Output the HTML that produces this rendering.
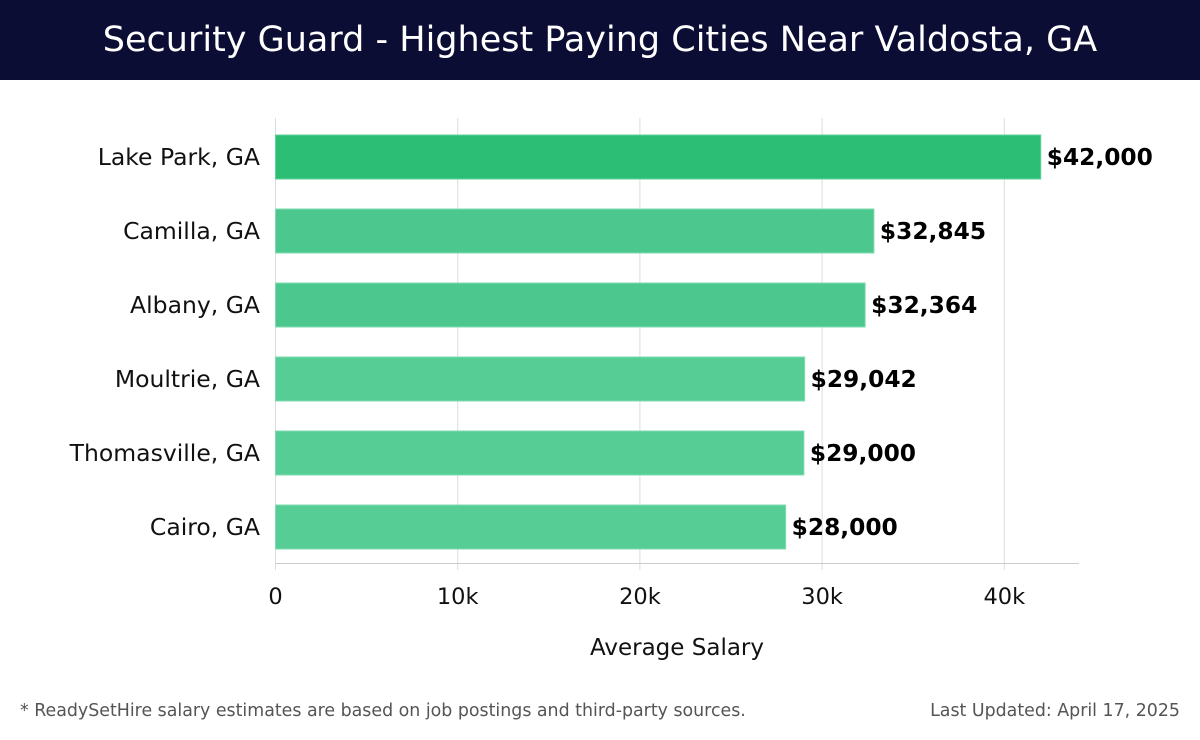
<!DOCTYPE html>
<html><head><meta charset="utf-8"><style>
body{margin:0;width:1200px;height:740px;background:#fff;font-family:"Liberation Sans","DejaVu Sans",sans-serif;overflow:hidden;position:relative}
#hdr{position:absolute;left:0;top:0;width:1200px;height:80px;background:#0b0d35;color:#fff;font-size:35px;text-align:center;line-height:80px;font-family:"DejaVu Sans","Liberation Sans",sans-serif;font-weight:normal}
.foot{position:absolute;top:701px;font-size:17.4px;color:#555;font-family:"DejaVu Sans","Liberation Sans",sans-serif}
</style></head><body>
<div id="hdr">Security Guard - Highest Paying Cities Near Valdosta, GA</div>
<svg id="chart" width="1200" height="740" style="position:absolute;left:0;top:0"></svg>
<div class="foot" style="left:20px">* ReadySetHire salary estimates are based on job postings and third-party sources.</div>
<div class="foot" style="right:20px">Last Updated: April 17, 2025</div>
<script>
const categories=["Lake Park, GA","Camilla, GA","Albany, GA","Moultrie, GA","Thomasville, GA","Cairo, GA"];
const values=[42000,32845,32364,29042,29000,28000];
const valueLabels=["$42,000","$32,845","$32,364","$29,042","$29,000","$28,000"];
const ticks=[0,10000,20000,30000,40000];
const tickLabels=["0","10k","20k","30k","40k"];
const svg=document.getElementById('chart');
const NS='http://www.w3.org/2000/svg';
const x0=275.5,pxPer=182.2/10000,top0=118,pitch=74,barH=44;
const xs=v=>x0+v*pxPer;
function mk(t,a){const e=document.createElementNS(NS,t);for(const k in a)e.setAttribute(k,a[k]);svg.appendChild(e);return e;}
ticks.forEach((t,i)=>{
 const g=mk('line',{x1:xs(t),x2:xs(t),y1:118,y2:570,stroke:'#dddddd','stroke-width':1});
 
 
 const l=mk('text',{x:xs(t),y:604,'text-anchor':'middle','font-size':22.5,fill:'#111','font-family':'DejaVu Sans, Liberation Sans, sans-serif'});
 l.textContent=tickLabels[i];
 
 
});
const ax=mk('line',{x1:x0,x2:1079,y1:563.5,y2:563.5,stroke:'#cccccc','stroke-width':1});


categories.forEach((c,i)=>{
 const y=top0+17+i*pitch;
 const b=mk('rect',{x:x0,y:y,width:xs(values[i])-x0,height:barH,fill:i===0?'#2dbe76':(i<3?'#4cc88f':'#57cd96'),stroke:i===0?'#5fd29a':'#7fdcb0','stroke-width':1});
 
 
 const l=mk('text',{x:260,y:y+barH/2+8,'text-anchor':'end','font-size':23.5,fill:'#111','font-family':'DejaVu Sans, Liberation Sans, sans-serif'});
 l.textContent=c;
 
 
 const v=mk('text',{x:xs(values[i])+6,y:y+barH/2+8,'font-size':23.3,'font-weight':'bold',fill:'#000','font-family':'DejaVu Sans, Liberation Sans, sans-serif'});
 v.textContent=valueLabels[i];
 
 
});
const xt=mk('text',{x:677,y:655,'text-anchor':'middle','font-size':23,fill:'#111','font-family':'DejaVu Sans, Liberation Sans, sans-serif'});
xt.textContent='Average Salary';


</script>
</body></html>
